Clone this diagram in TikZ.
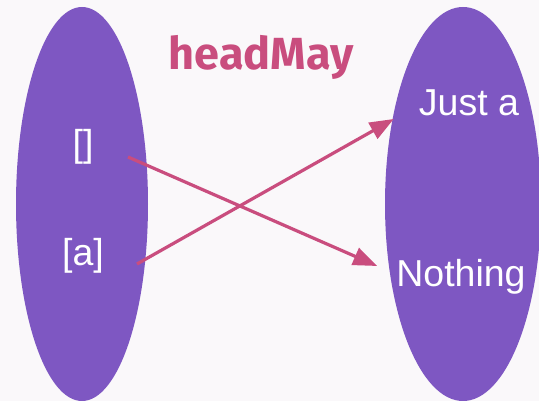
\documentclass[tikz,border=0pt]{standalone}
\usepackage{fontspec}
\setmainfont{Liberation Sans}
\newfontfamily\titlefont{Fira Sans}
\usetikzlibrary{shapes.geometric,arrows.meta}
\definecolor{bgpaper}{HTML}{FAF8FA}
\definecolor{setpurple}{HTML}{7E57C2}
\definecolor{mappink}{HTML}{C94D7E}

\tikzset{
  bag/.style={ellipse, fill=setpurple, inner sep=0pt},
  val/.style={text=white, font=\fontsize{37.5}{42}\selectfont, inner sep=0pt},
  arr/.style={mappink, line width=3.2pt, -{Triangle[length=24pt,width=18pt]}},
}

\begin{document}
\begin{tikzpicture}[x=1pt,y=-1pt]
  \fill[bgpaper] (0,0) rectangle (539,401);
  \useasboundingbox (0,0) rectangle (539,401);
  \begin{scope}
  \clip (0,0) rectangle (539,401);
  % Sets
  \node[bag, minimum width=132pt, minimum height=394pt] (lhs) at (82,204) {};
  \node[bag, minimum width=156pt, minimum height=394pt] (rhs) at (463,204) {};
  \end{scope}
  % Title
  \node[text=mappink, font=\titlefont\bfseries\fontsize{45}{50}\selectfont] (ttl) at (261,57) {headMay};

  % Values
  \node[val] (nil)     at (83,147)  {[]};
  \node[val] (cons)    at (83,256)  {[a]};
  \node[val] (just)    at (469,103) {Just a};
  \node[val] (nothing) at (461,277) {Nothing};

  % Mapping
  \draw[arr] ([xshift=45pt,yshift=-10pt]nil.center) -- ([xshift=-19pt,yshift=11pt]nothing.west);
  \draw[arr] ([xshift=54pt,yshift=-8pt]cons.center) -- ([xshift=-25pt,yshift=-16pt]just.west);
\end{tikzpicture}
\end{document}
